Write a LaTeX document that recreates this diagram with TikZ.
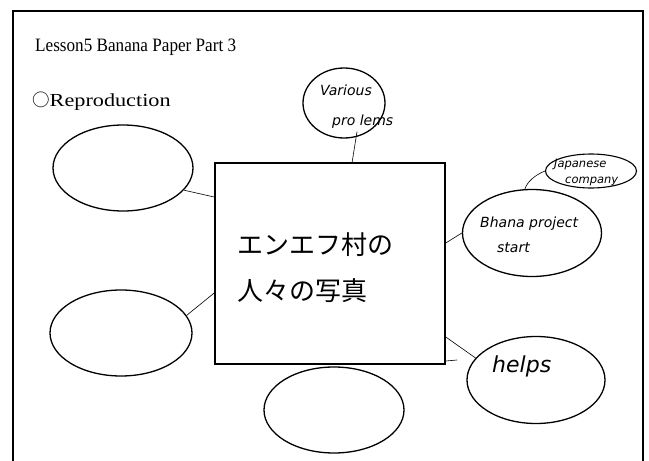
\documentclass[tikz,border=0pt]{standalone}
\usepackage{fontspec}
\usepackage{graphicx}
\setmainfont{Liberation Serif}
\newfontfamily\jpfont{Noto Sans CJK JP}
\newfontfamily\handfont{DejaVu Sans}
\usetikzlibrary{shapes.geometric}
\begin{document}
\begin{tikzpicture}[x=1pt,y=-1pt,
  bubble/.style={draw,line width=1.3pt,ellipse,inner sep=0pt},
  link/.style={draw,line width=0.6pt},
  hand/.style={font=\handfont\fontsize{14}{16}\selectfont\itshape,inner sep=0pt,anchor=west}]
\useasboundingbox (0,0) rectangle (649,461);
\fill[white] (0,0) rectangle (649,461);
% frame
\draw[line width=1.6pt] (13,465) -- (13,11) -- (643,11) -- (643,465);
% titles
\node[anchor=base west,inner sep=0pt,font=\fontsize{17.5}{20}\selectfont] (title) at (35,51) {\scalebox{0.98}[1.08]{Lesson5 Banana Paper Part 3}};
\node[anchor=base west,inner sep=0pt,font=\fontsize{17.5}{20}\selectfont] (repro) at (32,106) {{\jpfont ○}\scalebox{1.27}[1.05]{Reproduction}};
% center box
\node[draw,line width=1.6pt,minimum width=230pt,minimum height=201pt,inner sep=0pt] (box) at (330,263.5) {};
\node[anchor=base west,inner sep=0pt,font=\jpfont\fontsize{26}{30}\selectfont] (l1) at (237,254) {エンエフ村の};
\node[anchor=base west,inner sep=0pt,font=\jpfont\fontsize{26}{30}\selectfont] (l2) at (237,300) {人々の写真};
% ellipses
\node[bubble,minimum width=140pt,minimum height=86pt] (tl) at (123,168) {};
\node[bubble,minimum width=142pt,minimum height=86pt] (bl) at (121,333) {};
\node[bubble,minimum width=140pt,minimum height=86pt] (bt) at (334,410) {};
\node[bubble,minimum width=138pt,minimum height=87pt] (hp) at (536,380) {};
\node[bubble,minimum width=82pt,minimum height=70pt] (vp) at (344,103) {};
\node[bubble,minimum width=139pt,minimum height=87pt] (bp) at (532,233) {};
\node[draw,line width=1.1pt,ellipse,inner sep=0pt,minimum width=91pt,minimum height=34pt] (jc) at (591,171) {};
% handwritten texts
\node[hand] (vp1) at (320,90) {Various};
\node[hand] (vp2) at (332,122) {pro lems};
\node[hand] (bp1) at (480,224) {Bhana project};
\node[hand] (bp2) at (497,248) {start};
\node[hand,font=\handfont\fontsize{11.5}{14}\selectfont\itshape] (jc1) at (554,165) {Japanese};
\node[hand,font=\handfont\fontsize{11.5}{14}\selectfont\itshape] (jc2) at (565,181) {company};
\node[hand,font=\handfont\fontsize{22}{26}\selectfont\itshape] (hp1) at (492,366) {helps};
% connectors
\draw[link] (tl.-20) -- (box.west |- 0,197);
\draw[link] (bl.15) -- (box.west |- 0,293);
\draw[link] ([yshift=7pt]vp.south) ++(13pt,0) -- (352,163);
\draw[link] (box.east |- 0,243) -- (bp.west);
\draw[link] (bp.north) ++(-7pt,0) .. controls (527,182) and (535,175) .. (jc.west);
\draw[link] (box.east |- 0,337) -- (hp.160);
\coordinate (tick) at (457,360);
\draw[link] (box.east |- 0,361) -- (tick);
\end{tikzpicture}
\end{document}
